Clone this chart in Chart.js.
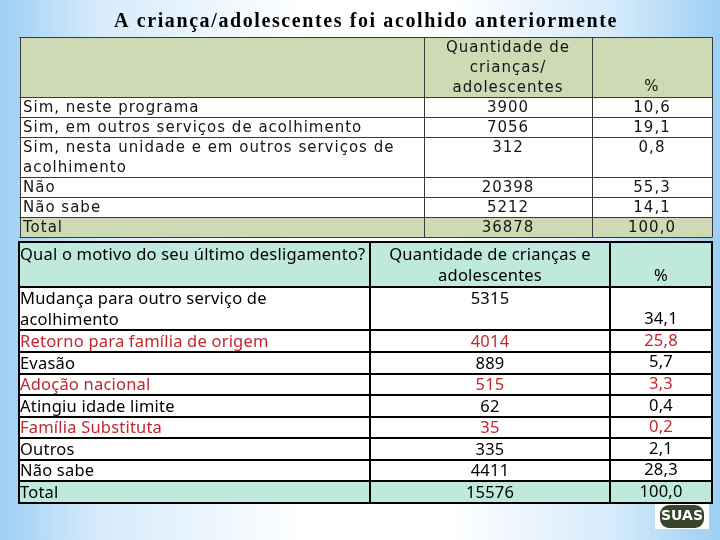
<!DOCTYPE html>
<html>
<head>
<meta charset="utf-8">
<script src="https://cdn.jsdelivr.net/npm/chart.js@4.4.1/dist/chart.umd.min.js"></script>
<style>
  html, body { margin: 0; padding: 0; }
  body {
    width: 720px; height: 540px; overflow: hidden; position: relative;
    background: linear-gradient(90deg, #9ccff4 0%, #d4eafb 13%, #ffffff 42%, #ffffff 62%, #d4eafb 86%, #9ccff4 100%);
  }
  #caixaA { position: absolute; left: 0; top: 0; width: 720px; height: 240px; }
  #caixaB { position: absolute; left: 0; top: 240px; width: 720px; height: 300px; }
</style>
</head>
<body>
<div id="caixaA"><canvas id="tabelaAcolhido"></canvas></div>
<div id="caixaB"><canvas id="tabelaDesligamento"></canvas></div>
<script>
  // ─── Dados ────────────────────────────────────────────
  var titulo = 'A criança/adolescentes foi acolhido anteriormente';

  var cabecalho1 = ['', 'Quantidade de\ncrianças/\nadolescentes', '%'];
  var categorias1 = [
    'Sim, neste programa',
    'Sim, em outros serviços de acolhimento',
    'Sim, nesta unidade e em outros serviços de\nacolhimento',
    'Não',
    'Não sabe',
    'Total'
  ];
  var quantidade1 = [3900, 7056, 312, 20398, 5212, 36878];
  var percentual1 = [10.6, 19.1, 0.8, 55.3, 14.1, 100.0];

  var cabecalho2 = ['Qual o motivo do seu último desligamento?', 'Quantidade de crianças e\nadolescentes', '%'];
  var categorias2 = [
    'Mudança para outro serviço de\nacolhimento',
    'Retorno para família de origem',
    'Evasão',
    'Adoção nacional',
    'Atingiu idade limite',
    'Família Substituta',
    'Outros',
    'Não sabe',
    'Total'
  ];
  var quantidade2 = [5315, 4014, 889, 515, 62, 35, 335, 4411, 15576];
  var percentual2 = [34.1, 25.8, 5.7, 3.3, 0.4, 0.2, 2.1, 28.3, 100.0];

  // ─── Layout e estilo (separados dos dados) ────────────
  var VERDE = '#cddab4';
  var AGUA = '#bfe9dd';
  var VERMELHO = '#c3262e';

  var estilo1 = {
    colunas: [404, 168, 120],             // largura relativa das colunas
    linhas: [3, 1, 1, 2, 1, 1, 1],        // altura de cada linha (em linhas de texto)
    fundos: [VERDE, '#fff', '#fff', '#fff', '#fff', '#fff', VERDE],
    alinhaCab: ['top', 'top', 'bottom'],
    alinhaCorpo: ['top', 'top', 'top'],
    ajusteCab: 0.55,
    cores: null,
    fonte: '15px "DejaVu Sans"',
    espaco: '1px',
    corTexto: '#151515',
    borda: '#3a3a3a',
    larguraBorda: 1,
    recuo: 3
  };

  var estilo2 = {
    colunas: [351, 240, 102],
    linhas: [2.1, 2, 1, 1, 1, 1, 1, 1, 1, 1],
    fundos: [AGUA, '#fff', '#fff', '#fff', '#fff', '#fff', '#fff', '#fff', '#fff', AGUA],
    alinhaCab: ['top', 'top', 'bottom'],
    alinhaCorpo: ['top', 'top', 'bottom'],
    ajusteCab: 0.6,
    cores: [null, VERMELHO, null, VERMELHO, null, VERMELHO, null, null, null],
    fonte: '16.5px "Noto Sans"',
    espaco: '0.2px',
    corTexto: '#000',
    borda: '#000',
    larguraBorda: 2,
    recuo: 1
  };

  function pct(v) { return v.toFixed(1).replace('.', ','); }

  function montarLinhas(cab, cats, qtd, perc) {
    var linhas = [cab];
    for (var i = 0; i < cats.length; i++) {
      linhas.push([cats[i], String(qtd[i]), pct(perc[i])]);
    }
    return linhas;
  }

  function somar(arr) {
    var s = 0;
    for (var i = 0; i < arr.length; i++) s += arr[i];
    return s;
  }

  // ─── Plugin que desenha a tabela usando as escalas ────
  function pluginTabela(linhas, est) {
    return {
      id: 'tabela',
      beforeDraw: function (chart) {
        // título com letras um pouco espaçadas, como no original
        chart.ctx.letterSpacing = '1.6px';
      },
      afterDatasetsDraw: function (chart) {
        var ctx = chart.ctx;
        var xs = chart.scales.x, ys = chart.scales.y;
        var bordas = [0];
        for (var c = 0; c < est.colunas.length; c++) bordas.push(bordas[c] + est.colunas[c]);

        ctx.save();
        // 1) fundos
        var inicio = 0, r, c2;
        for (r = 0; r < linhas.length; r++) {
          var y0 = ys.getPixelForValue(inicio);
          var y1 = ys.getPixelForValue(inicio + est.linhas[r]);
          ctx.fillStyle = est.fundos[r];
          ctx.fillRect(xs.getPixelForValue(0), y0, xs.getPixelForValue(bordas[3]) - xs.getPixelForValue(0), y1 - y0);
          inicio += est.linhas[r];
        }

        // 2) grade
        ctx.strokeStyle = est.borda;
        ctx.lineWidth = est.larguraBorda;
        var meio = est.larguraBorda % 2 ? 0.5 : 0;
        var topo = ys.getPixelForValue(0), fundo = ys.getPixelForValue(inicio);
        var acc = 0;
        for (r = 0; r <= linhas.length; r++) {
          var yy = Math.round(ys.getPixelForValue(acc)) + meio;
          ctx.beginPath();
          ctx.moveTo(xs.getPixelForValue(0) - est.larguraBorda / 2, yy);
          ctx.lineTo(xs.getPixelForValue(bordas[3]) + est.larguraBorda / 2, yy);
          ctx.stroke();
          if (r < linhas.length) acc += est.linhas[r];
        }
        for (c2 = 0; c2 < bordas.length; c2++) {
          var xx = Math.round(xs.getPixelForValue(bordas[c2])) + meio;
          ctx.beginPath();
          ctx.moveTo(xx, topo);
          ctx.lineTo(xx, fundo);
          ctx.stroke();
        }

        // 3) textos
        ctx.font = est.fonte;
        ctx.letterSpacing = est.espaco;
        ctx.textBaseline = 'middle';
        inicio = 0;
        for (r = 0; r < linhas.length; r++) {
          var alt = est.linhas[r];
          for (c2 = 0; c2 < 3; c2++) {
            var texto = linhas[r][c2];
            if (!texto) continue;
            var x0 = xs.getPixelForValue(bordas[c2]);
            var x1 = xs.getPixelForValue(bordas[c2 + 1]);
            var partes = texto.split('\n');
            var alinha = r === 0 ? est.alinhaCab[c2] : est.alinhaCorpo[c2];
            var ajuste = r === 0 ? est.ajusteCab : 0.55;
            ctx.textAlign = c2 === 0 ? 'left' : 'center';
            ctx.fillStyle = (r > 0 && est.cores && est.cores[r - 1]) ? est.cores[r - 1] : est.corTexto;
            var tx = c2 === 0 ? x0 + est.recuo : (x0 + x1) / 2;
            for (var k = 0; k < partes.length; k++) {
              var pos = alinha === 'top' ? inicio + k + ajuste : inicio + alt - partes.length + k + 0.5;
              ctx.fillText(partes[k], tx, ys.getPixelForValue(pos));
            }
          }
          inicio += alt;
        }
        ctx.restore();
      }
    };
  }

  // selo SUAS no canto
  var pluginSelo = {
    id: 'selo',
    afterDraw: function (chart) {
      var ctx = chart.ctx, a = chart.chartArea;
      var x = a.right - 57, y = a.bottom + 1;
      ctx.save();
      ctx.letterSpacing = '0px';
      ctx.fillStyle = '#ffffff';
      ctx.fillRect(x, y, 54, 25);
      ctx.fillStyle = '#36442a';
      ctx.beginPath();
      ctx.roundRect(x + 5, y + 1, 44, 23, 9);
      ctx.fill();
      ctx.fillStyle = '#ffffff';
      ctx.font = 'bold 14px "DejaVu Sans"';
      ctx.textAlign = 'center';
      ctx.textBaseline = 'middle';
      ctx.fillText('SUAS', x + 27, y + 12);
      ctx.restore();
    }
  };

  function opcoes(est, comTitulo, padding) {
    return {
      responsive: true,
      maintainAspectRatio: false,
      animation: false,
      events: [],
      layout: { padding: padding },
      plugins: {
        legend: { display: false },
        tooltip: { enabled: false },
        title: {
          display: comTitulo,
          text: titulo,
          color: '#000',
          font: { family: '"Liberation Serif"', size: 20, weight: 'bold' },
          padding: { top: 10, bottom: 3 }
        }
      },
      scales: {
        x: { type: 'linear', display: false, min: 0, max: somar(est.colunas) },
        y: { type: 'linear', display: false, reverse: true, min: 0, max: somar(est.linhas) }
      }
    };
  }

  new Chart(document.getElementById('tabelaAcolhido'), {
    type: 'scatter',
    data: { datasets: [] },
    options: opcoes(estilo1, true, { left: 20, right: 8, top: 0, bottom: 3 }),
    plugins: [pluginTabela(montarLinhas(cabecalho1, categorias1, quantidade1, percentual1), estilo1)]
  });

  new Chart(document.getElementById('tabelaDesligamento'), {
    type: 'scatter',
    data: { datasets: [] },
    options: opcoes(estilo2, false, { left: 19, right: 8, top: 2, bottom: 37 }),
    plugins: [pluginTabela(montarLinhas(cabecalho2, categorias2, quantidade2, percentual2), estilo2), pluginSelo]
  });
</script>
</body>
</html>
